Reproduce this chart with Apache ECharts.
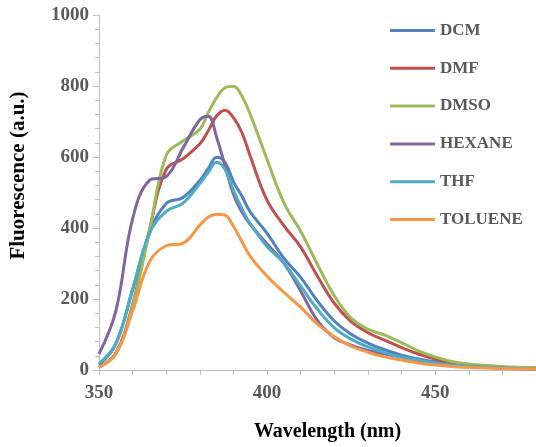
<!DOCTYPE html>
<html>
<head>
<meta charset="utf-8">
<script src="https://cdn.jsdelivr.net/npm/echarts@6/dist/echarts.min.js"></script>
<style>
  html, body { margin: 0; padding: 0; background: #fff; }
  #chart1 { width: 536px; height: 447px; }
</style>
</head>
<body>
<div id="chart1"></div>
<script>
// wavelengths (nm) and fluorescence readings per solvent
var wavelength = [350, 355, 360, 365, 370, 375, 380, 382.5, 385, 387.5, 390, 392.5, 395, 400, 405, 410, 415, 420, 425, 430, 435, 440, 445, 450, 455, 460, 470, 480];
var dcm     = [15, 73, 226, 385, 469, 486, 534, 567, 599, 585, 530, 490, 445, 385, 315, 261, 194, 138, 101, 76, 57, 42, 31, 23, 16, 12, 7, 4];
var dmf     = [8, 48, 185, 395, 565, 595, 637, 674, 716, 732, 711, 669, 602, 478, 407, 346, 264, 188, 136, 105, 84, 63, 45, 31, 20, 12, 8, 5];
var dmso    = [8, 45, 180, 390, 605, 645, 678, 725, 767, 795, 799, 772, 720, 593, 471, 391, 297, 209, 146, 115, 98, 77, 54, 37, 24, 17, 10, 6];
var hexane  = [45, 166, 426, 534, 545, 625, 705, 715, 655, 575, 495, 445, 410, 355, 301, 222, 139, 91, 70, 55, 45, 36, 27, 19, 13, 9, 5, 3];
var thf     = [18, 75, 228, 385, 447, 470, 525, 557, 585, 565, 506, 455, 412, 348, 301, 236, 171, 119, 87, 65, 49, 36, 28, 20, 14, 10, 6, 3];
var toluene = [8, 45, 166, 304, 350, 357, 408, 431, 439, 436, 405, 362, 320, 264, 219, 177, 129, 94, 67, 50, 37, 28, 20, 14, 10, 7, 4, 3];

var seriesNames = ['DCM', 'DMF', 'DMSO', 'HEXANE', 'THF', 'TOLUENE'];
var seriesData = [dcm, dmf, dmso, hexane, thf, toluene];
var colors = ['#4F81BD', '#C0504D', '#9BBB59', '#8064A2', '#4BACC6', '#F79646'];

var chart1 = echarts.init(document.getElementById('chart1'));
var serifFont = '"Liberation Serif", "Times New Roman", serif';

function pairs(values) {
    var out = [];
    for (var i = 0; i < wavelength.length; i++) {
        out.push([wavelength[i], values[i]]);
    }
    return out;
}

var series = [];
for (var i = 0; i < seriesNames.length; i++) {
    series.push({
        name: seriesNames[i],
        type: 'line',
        data: pairs(seriesData[i]),
        smooth: 0.4,
        showSymbol: false,
        symbol: 'none',
        lineStyle: { width: 3, color: colors[i] },
        itemStyle: { color: colors[i] }
    });
}

var axisGrey = '#bfbfbf';
var option = {
    animation: false,
    grid: { left: 99, top: 15, right: -5, bottom: 74 },
    legend: {
        orient: 'vertical',
        left: 385,
        top: 17,
        icon: 'roundRect',
        itemWidth: 45,
        itemHeight: 3,
        itemGap: 20.8,
        data: seriesNames,
        textStyle: { fontFamily: serifFont, fontWeight: 'bold', fontSize: 17, color: '#595959', lineHeight: 14 }
    },
    xAxis: {
        type: 'value',
        min: 350,
        max: 480,
        interval: 50,
        name: 'Wavelength (nm)',
        nameLocation: 'middle',
        nameGap: 52,
        nameTextStyle: { fontFamily: serifFont, fontWeight: 'bold', fontSize: 20, color: '#000', padding: [0, 0, 0, 20] },
        axisLine: { show: true, lineStyle: { color: axisGrey, width: 1 } },
        axisTick: { show: true, length: 5, lineStyle: { color: axisGrey } },
        minorTick: { show: true, splitNumber: 5, length: 5, lineStyle: { color: axisGrey } },
        splitLine: { show: false },
        axisLabel: {
            margin: 14,
            fontFamily: serifFont, fontWeight: 'bold', fontSize: 19, color: '#595959',
            showMaxLabel: false
        }
    },
    yAxis: {
        type: 'value',
        min: 0,
        max: 1000,
        interval: 200,
        name: 'Fluorescence (a.u.)',
        nameLocation: 'middle',
        nameGap: 70,
        nameRotate: 90,
        nameTextStyle: { fontFamily: serifFont, fontWeight: 'bold', fontSize: 21, color: '#000', padding: [0, 0, 0, 34] },
        axisLine: { show: true, lineStyle: { color: axisGrey, width: 1 } },
        axisTick: { show: true, length: 6, lineStyle: { color: axisGrey } },
        minorTick: { show: true, splitNumber: 5, length: 4, lineStyle: { color: axisGrey } },
        splitLine: { show: false },
        axisLabel: {
            margin: 10,
            formatter: function (v) { return String(v); },
            fontFamily: serifFont, fontWeight: 'bold', fontSize: 19, color: '#595959'
        }
    },
    series: series
};
chart1.setOption(option, true);
</script>
</body>
</html>
